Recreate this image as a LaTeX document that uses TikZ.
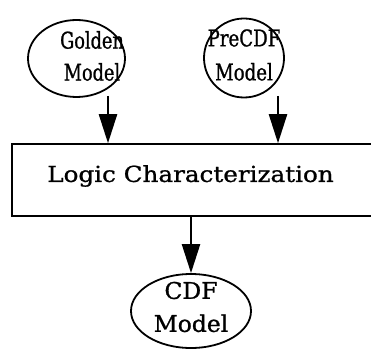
\documentclass[tikz,border=0pt]{standalone}
\usepackage{fontspec}
\setmainfont{DejaVu Serif}
\newfontfamily\goldfont[FakeStretch=0.77,FakeBold=1]{DejaVu Serif}
\newfontfamily\prefont[FakeStretch=0.79,FakeBold=1]{DejaVu Serif}
\newfontfamily\cdffont[FakeStretch=1.02,FakeBold=1]{DejaVu Serif}
\newfontfamily\boxfont[FakeStretch=1.12,FakeBold=1]{DejaVu Serif}
\usetikzlibrary{shapes.geometric,arrows.meta}
\begin{document}
\begin{tikzpicture}[x=1pt,y=1pt,
  ell/.style={draw, ellipse, line width=1.8pt, inner sep=0pt},
  lbl/.style={align=center, inner sep=0pt},
  flow/.style={line width=2.4pt, -{Triangle[length=29pt,width=18pt]}},
  procbox/.style={draw, line width=1.6pt, rectangle, minimum width=364pt, minimum height=72pt, inner sep=0pt}]
\useasboundingbox (0,0) rectangle (371,351);
\node[ell, minimum width=97pt, minimum height=77pt] (golden) at (76.5,292.5) {};
\node[lbl, font=\goldfont\fontsize{23}{32}\selectfont] (goldentext) at (92,295) {Golden\\Model};
\node[ell, minimum width=80pt, minimum height=79pt] (precdf) at (244,293) {};
\node[lbl, font=\prefont\fontsize{23}{34}\selectfont] (precdftext) at (244,296) {PreCDF\\Model};
\node[procbox] (logic) at (194,171) {};
\node[font=\boxfont\fontsize{22}{26}\selectfont, inner sep=0pt] (logictext) at (190.5,175) {Logic Characterization};
\node[ell, minimum width=120pt, minimum height=74pt] (cdf) at (191,40) {};
\node[lbl, font=\cdffont\fontsize{23}{33}\selectfont] (cdftext) at (191,44) {CDF\\Model};
\coordinate (gout) at (108,255);
\coordinate (pout) at (278,255);
\draw[flow] (gout) -- (gout |- logic.north);
\draw[flow] (pout) -- (pout |- logic.north);
\draw[flow] (logic.south -| cdf.north) -- (cdf.north);
\end{tikzpicture}
\end{document}
